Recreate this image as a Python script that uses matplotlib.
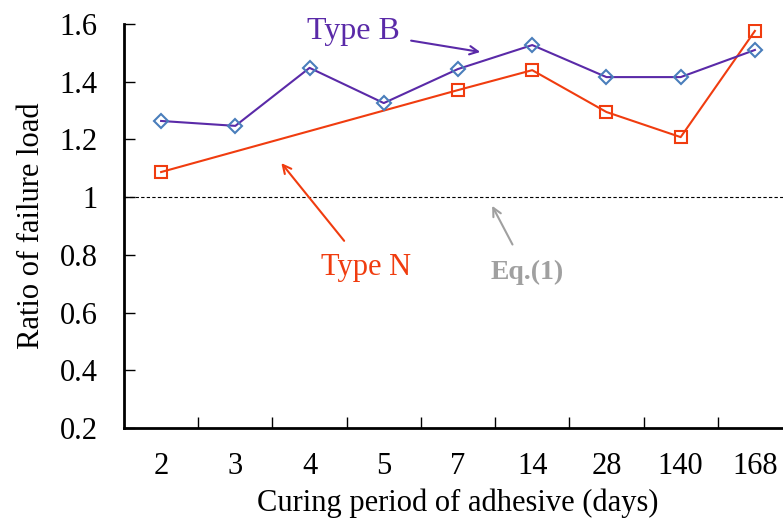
import matplotlib.pyplot as plt
import numpy as np

plt.rcParams['font.family'] = ['Liberation Serif', 'DejaVu Serif']

# 养护天数（类别轴）
days = ['2', '3', '4', '5', '7', '14', '28', '140', '168']
# Type B 全部类别
type_b = [1.264, 1.247, 1.448, 1.326, 1.444, 1.527, 1.416, 1.416, 1.51]
# Type N 只在部分类别有数据
type_n_days = ['2', '7', '14', '28', '140', '168']
type_n = [1.087, 1.371, 1.44, 1.295, 1.208, 1.576]

fig = plt.figure(figsize=(7.83, 5.21), dpi=100)
ax = fig.add_axes([124 / 783, 1 - 428 / 521, (792 - 124) / 783, (428 - 24) / 521])

x_b = np.arange(len(days))
x_n = [days.index(d) for d in type_n_days]

ax.axhline(1.0, color='black', lw=0.8, ls=(0, (3, 2)), zorder=1)
ax.plot(x_n, type_n, color='#f03c0f', lw=1.5, marker='s', ms=9,
        mfc='none', mec='#f03c0f', mew=1.5, zorder=3)
ax.plot(x_b, type_b, color='#5a2aa8', lw=1.5, marker='D', ms=7,
        mfc='none', mec='#4a7ebb', mew=1.5, zorder=4)

ax.set_xlim(-0.5, len(days) - 0.5)
ax.set_ylim(0.2, 1.6)
ax.set_yticks([0.2, 0.4, 0.6, 0.8, 1.0, 1.2, 1.4, 1.6])
ax.set_yticklabels(['0.2', '0.4', '0.6', '0.8', '1', '1.2', '1.4', '1.6'])
ax.set_xticks(x_b)
ax.set_xticklabels(days)
ax.set_xticks(np.arange(0.5, len(days) - 0.5, 1), minor=True)
ax.tick_params(axis='x', which='major', length=0, pad=17, labelsize=22)
ax.tick_params(axis='x', which='minor', direction='in', length=8, width=1)
ax.tick_params(axis='y', direction='in', length=8, width=1, labelsize=22, pad=19)

for s in ['top', 'right']:
    ax.spines[s].set_visible(False)
for s in ['left', 'bottom']:
    ax.spines[s].set_linewidth(2)

ax.set_xlabel('Curing period of adhesive (days)', fontsize=22, labelpad=6)
ax.set_ylabel('Ratio of failure load', fontsize=22, labelpad=10)

# 标注
ax.annotate('Type B', xy=(4.3, 1.503), xytext=(3.22, 1.575), fontsize=23,
            color='#5a2aa8', ha='right', va='center',
            arrowprops=dict(arrowstyle='->', color='#5a2aa8', lw=1.5,
                            shrinkA=6, shrinkB=0, mutation_scale=15))
ax.annotate('Type N', xy=(1.62, 1.118), xytext=(2.76, 0.755), fontsize=22,
            color='#f03c0f', ha='center', va='center',
            arrowprops=dict(arrowstyle='->', color='#f03c0f', lw=1.5,
                            shrinkA=9, shrinkB=0, mutation_scale=15))
ax.annotate('Eq.(1)', xy=(4.46, 0.97), xytext=(4.93, 0.74), fontsize=20,
            color='#a0a0a0', ha='center', va='center', fontweight='bold',
            arrowprops=dict(arrowstyle='->', color='#a0a0a0', lw=1.5,
                            shrinkA=10, shrinkB=0, mutation_scale=15))

fig.savefig('out.png', dpi=100)
